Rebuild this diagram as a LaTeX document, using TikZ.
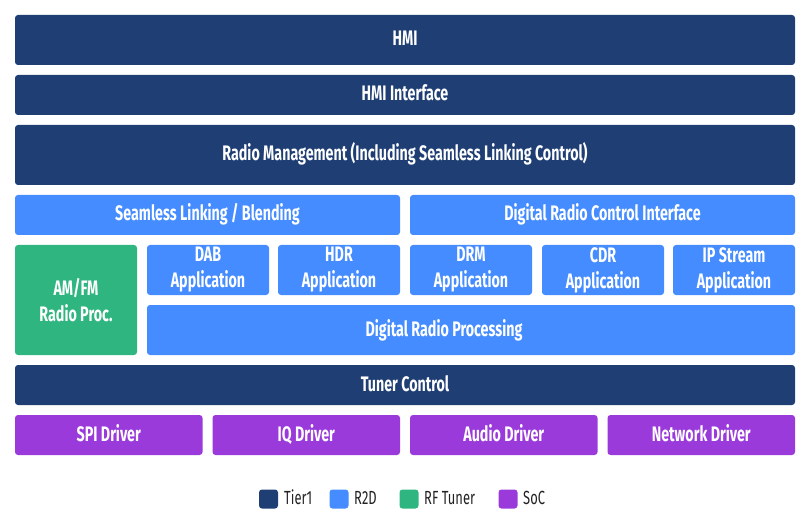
\documentclass[tikz,border=0pt]{standalone}
\usepackage{fontspec}
\setmainfont{Fira Sans}[FakeStretch=0.68]
\definecolor{tierone}{HTML}{1F3F74}
\definecolor{rtwod}{HTML}{448CFF}
\definecolor{rftuner}{HTML}{2FB57F}
\definecolor{soc}{HTML}{9A3ADB}
\definecolor{legtext}{HTML}{222222}
\tikzset{
  blk/.style={rectangle, rounded corners=3pt, inner sep=0pt, text=white, align=center,
    font=\fontsize{21}{26}\selectfont\bfseries},
  oneline/.style={text height=13pt, text depth=1pt},
  tier/.style={blk, oneline, fill=tierone},
  rtd/.style={blk, fill=rtwod},
  rft/.style={blk, fill=rftuner},
  socb/.style={blk, oneline, fill=soc},
  blktext/.style={inner sep=0pt, oneline, text=white, font=\fontsize{21}{26}\selectfont\bfseries},
  legsq/.style={rectangle, rounded corners=3pt, minimum width=19pt, minimum height=19pt, inner sep=0pt},
  legtx/.style={anchor=west, inner sep=0pt, text height=13pt, text depth=1pt, text=legtext, font=\fontsize{19}{20}\selectfont}
}
\begin{document}
\begin{tikzpicture}[x=1pt,y=-1pt]
\useasboundingbox (0,0) rectangle (810,510);
\node[tier, minimum width=780pt, minimum height=50pt] (hmi) at (405,40) {HMI};
\node[tier, minimum width=780pt, minimum height=40pt] (hmiif) at (405,95) {HMI Interface};
\node[tier, minimum width=780pt, minimum height=60pt] (rm) at (405,155) {Radio Management (Including Seamless Linking Control)};
\node[rtd, oneline, minimum width=385pt, minimum height=40pt] (sl) at (207.5,215) {Seamless Linking / Blending};
\node[rtd, oneline, minimum width=385pt, minimum height=40pt] (drci) at (602.5,215) {Digital Radio Control Interface};
\node[rft, minimum width=122pt, minimum height=110pt] (amfm) at (76,300) {AM/FM\\Radio Proc.};
\node[rtd, minimum width=122pt, minimum height=50pt] (dab) at (208,270) {DAB\\Application};
\node[rtd, minimum width=122pt, minimum height=50pt] (hdr) at (339,270) {HDR\\Application};
\node[rtd, minimum width=122pt, minimum height=50pt] (drm) at (471,270) {DRM\\Application};
\node[rtd, minimum width=122pt, minimum height=50pt] (cdr) at (603,270) {CDR\\Application};
\node[rtd, minimum width=122pt, minimum height=50pt] (ip) at (734,270) {IP Stream\\Application};
\node[rtd, minimum width=648pt, minimum height=50pt] (drp) at (471,330) {};
\node[blktext] (drptext) at (444,330) {Digital Radio Processing};
\node[tier, minimum width=780pt, minimum height=40pt] (tc) at (405,385) {Tuner Control};
\node[socb, minimum width=187.5pt, minimum height=40pt] (spi) at (108.75,435) {SPI Driver};
\node[socb, minimum width=187.5pt, minimum height=40pt] (iq) at (306.25,435) {IQ Driver};
\node[socb, minimum width=187.5pt, minimum height=40pt] (aud) at (503.75,435) {Audio Driver};
\node[socb, minimum width=187.5pt, minimum height=40pt] (net) at (701.25,435) {Network Driver};
% legend
\node[legsq, fill=tierone] (l1) at (268.5,499) {};
\node[legtx] (t1) at (284,498.5) {Tier1};
\node[legsq, fill=rtwod] (l2) at (339,499) {};
\node[legtx] (t2) at (354,498.5) {R2D};
\node[legsq, fill=rftuner] (l3) at (409,499) {};
\node[legtx] (t3) at (424,498.5) {RF Tuner};
\node[legsq, fill=soc] (l4) at (508,499) {};
\node[legtx] (t4) at (523,498.5) {SoC};
\end{tikzpicture}
\end{document}
